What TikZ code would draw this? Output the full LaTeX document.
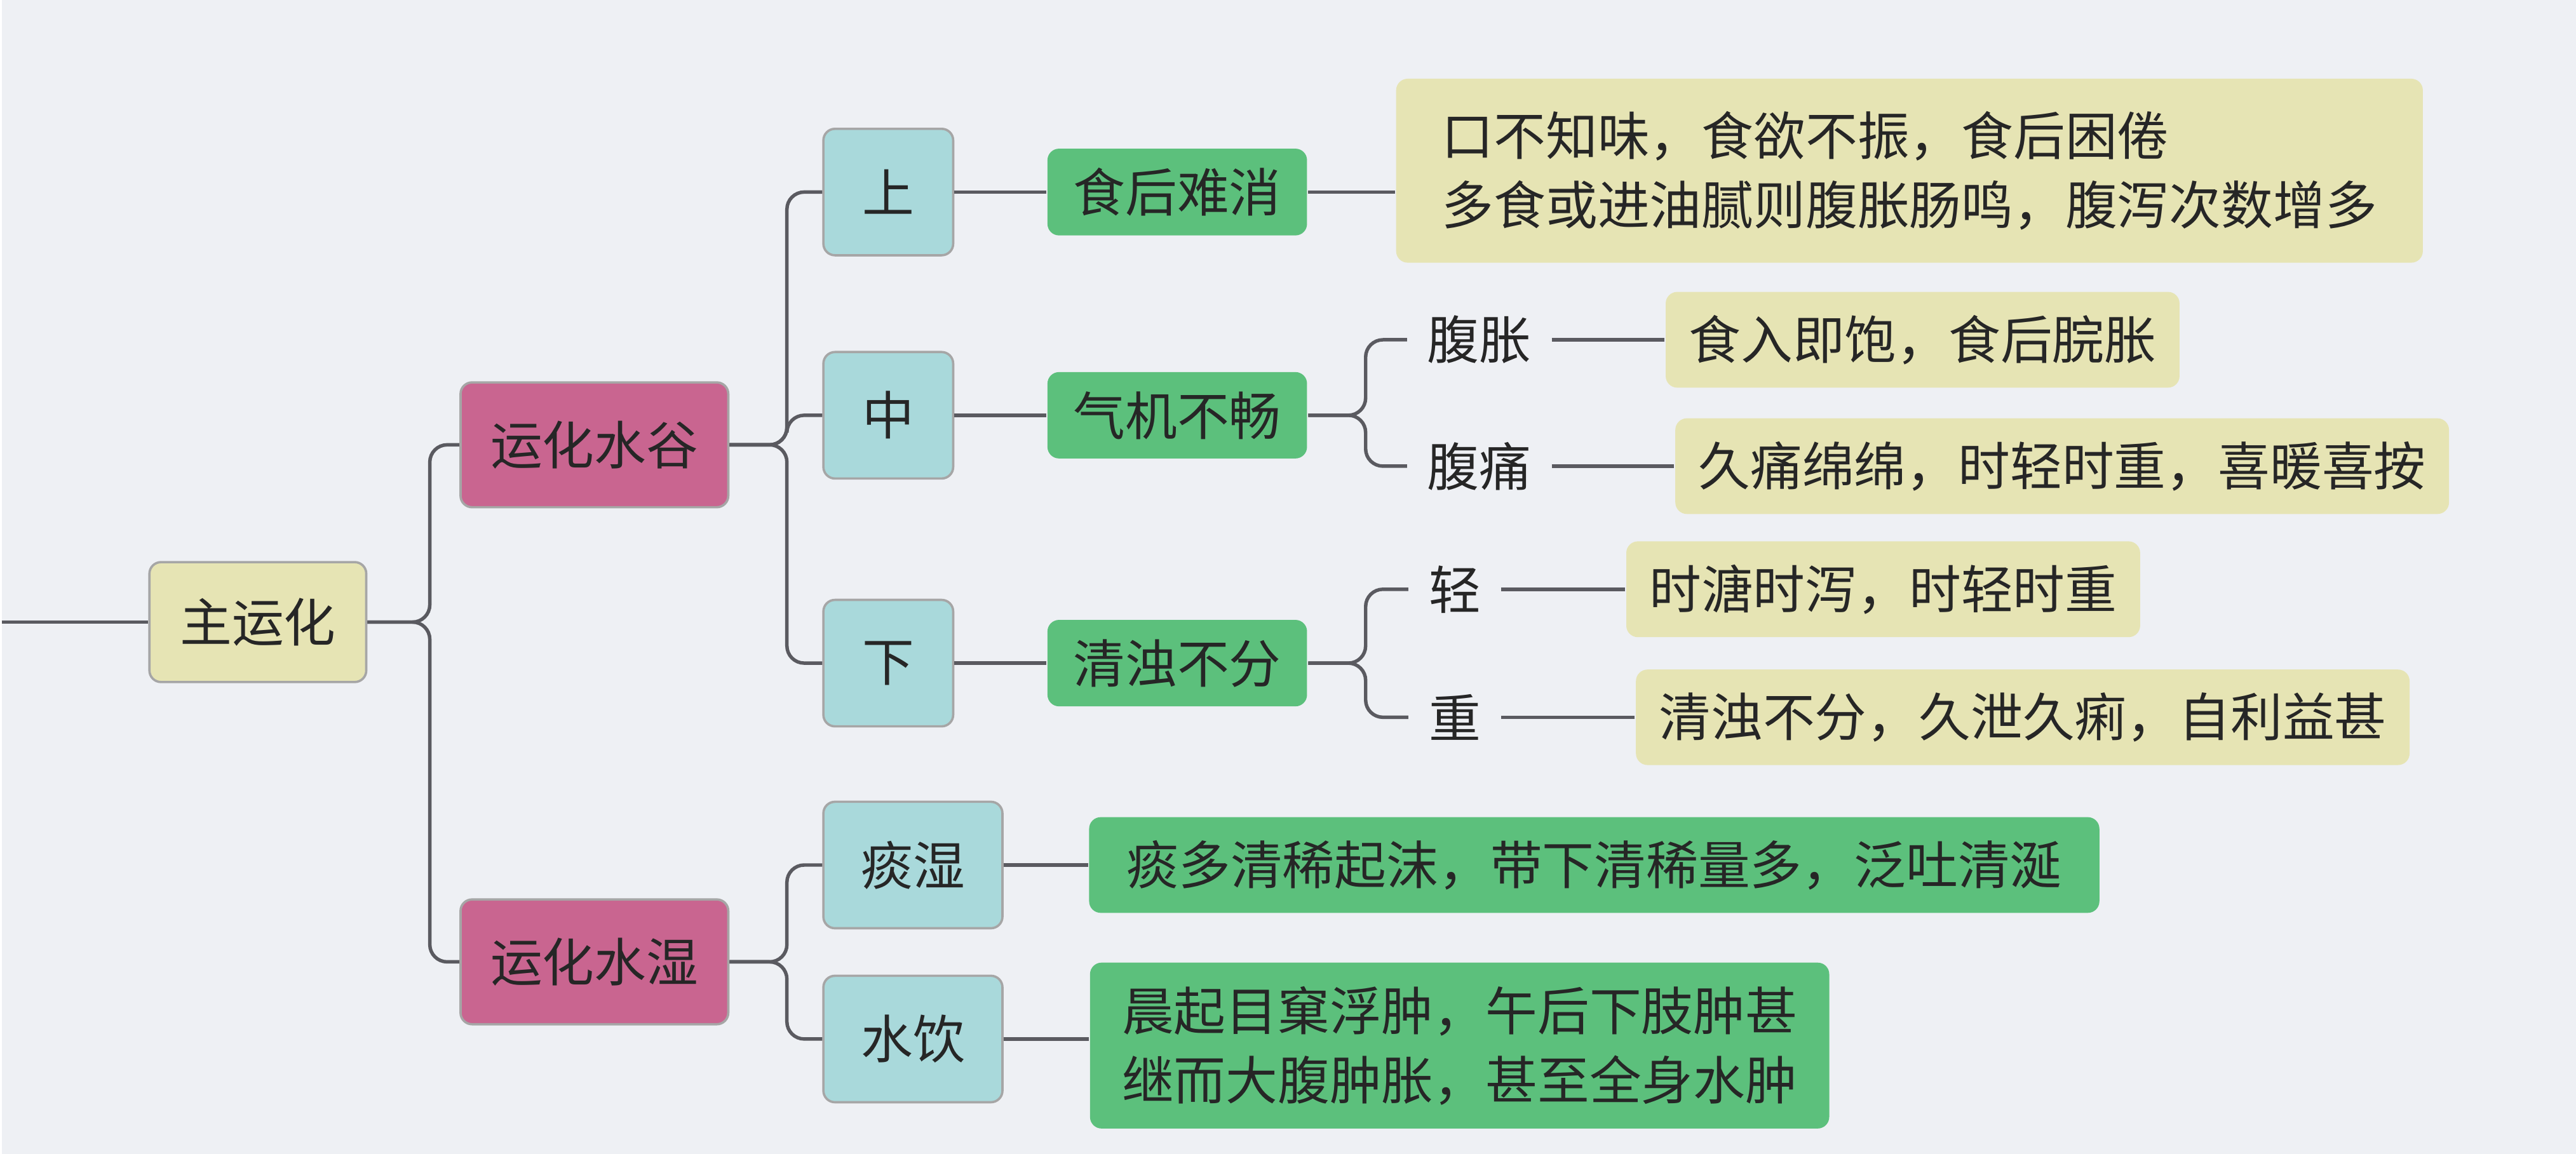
\documentclass[tikz,border=0pt]{standalone}
\usepackage{fontspec}
\newfontfamily\cjk{Noto Sans CJK SC}
\usetikzlibrary{positioning}
\definecolor{bgc}{HTML}{EEF0F4}
\definecolor{yel}{HTML}{E6E4B4}
\definecolor{pnk}{HTML}{C96590}
\definecolor{tea}{HTML}{A9D9DB}
\definecolor{grn}{HTML}{5CC07C}
\definecolor{lnc}{HTML}{5A5A60}
\tikzset{
  base/.style={rounded corners=2pt, draw=gray!70, font=\cjk\fontsize{9}{12}\selectfont, text=black!85},
  rootbox/.style={base, fill=yel, minimum width=1.32cm, minimum height=0.73cm},
  catbox/.style={base, fill=pnk, minimum width=1.63cm, minimum height=0.76cm},
  posbox/.style={base, fill=tea, minimum width=0.79cm, minimum height=0.77cm},
  widebox/.style={base, fill=tea, minimum width=1.09cm, minimum height=0.77cm},
  symbox/.style={base, draw=none, fill=grn, minimum width=1.58cm, minimum height=0.48cm},
  notebox/.style={base, draw=none, fill=yel, inner sep=4pt, align=left, minimum height=0.54cm},
  gnote/.style={base, draw=none, fill=grn, inner sep=4pt, align=left, minimum height=0.55cm},
  lbl/.style={font=\cjk\fontsize{9}{12}\selectfont, text=black!85},
  link/.style={draw=lnc, line width=0.6pt, rounded corners=3pt}
}
\begin{document}
\begin{tikzpicture}[x=0.01cm, y=-0.01cm]
\fill[bgc] (0,0) rectangle (1568,703);
\node[rootbox] (main) at (156,379) {主运化};
\node[catbox] (sg) at (361,271) {运化水谷};
\node[catbox] (ss) at (361,586) {运化水湿};
\node[posbox] (up) at (540,117) {上};
\node[posbox] (mid) at (540,253) {中};
\node[posbox] (low) at (540,404) {下};
\node[symbox] (s1) at (716,117) {食后难消};
\node[symbox] (s2) at (716,253) {气机不畅};
\node[symbox] (s3) at (716,404) {清浊不分};
\node[notebox, minimum width=6.25cm, minimum height=1.12cm] (n1) at (1162,104) {口不知味，食欲不振，食后困倦\\多食或进油腻则腹胀肠鸣，腹泻次数增多};
\node[lbl] (fz) at (900,207) {腹胀};
\node[lbl] (ft) at (900,284) {腹痛};
\node[notebox] (n2) at (1170,207) {食入即饱，食后脘胀};
\node[notebox] (n3) at (1255,284) {久痛绵绵，时轻时重，喜暖喜按};
\node[lbl] (qg) at (885,359) {轻};
\node[lbl] (zh) at (885,437) {重};
\node[notebox] (n4) at (1146,359) {时溏时泻，时轻时重};
\node[notebox] (n5) at (1231,437) {清浊不分，久泄久痢，自利益甚};
\node[widebox] (ts) at (555,527) {痰湿};
\node[widebox] (sy) at (555,633) {水饮};
\node[gnote, minimum width=6.15cm] (n6) at (970,527) {痰多清稀起沫，带下清稀量多，泛吐清涎};
\node[gnote, minimum width=4.5cm, minimum height=1.01cm] (n7) at (888,637) {晨起目窠浮肿，午后下肢肿甚\\继而大腹肿胀，甚至全身水肿};
\coordinate (lend) at (0,379);
% connectors
\draw[link] (lend) -- (main.west);
\draw[link] (main.east) -- ++(38,0) |- (sg.west);
\draw[link] (main.east) -- ++(38,0) |- (ss.west);
\foreach \c in {up,mid,low}
  \draw[link] (sg.east) -- ++(35,0) |- (\c.west);
\foreach \c in {ts,sy}
  \draw[link] (ss.east) -- ++(35,0) |- (\c.west);
\draw[link] (up) -- (s1) (mid) -- (s2) (low) -- (s3);
\draw[link] (s1) -- (n1.west |- s1);
\foreach \c in {fz,ft}
  \draw[link] (s2.east) -- ++(35,0) |- (\c.west);
\foreach \c in {qg,zh}
  \draw[link] (s3.east) -- ++(35,0) |- (\c.west);
\draw[link] (fz) -- (n2) (ft) -- (n3) (qg) -- (n4) (zh) -- (n5);
\draw[link] (ts) -- (n6);
\draw[link] (sy) -- (n7.west |- sy);
\end{tikzpicture}
\end{document}
